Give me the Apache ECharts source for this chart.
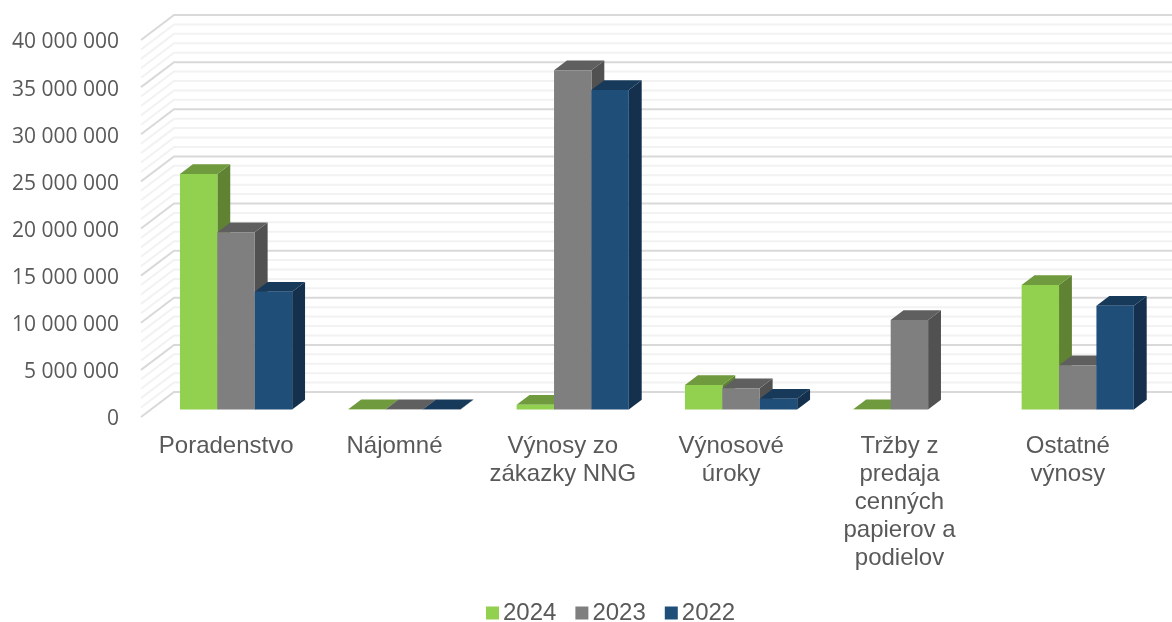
<!DOCTYPE html>
<html>
<head>
<meta charset="utf-8">
<style>
  html, body { margin: 0; padding: 0; background: #fff; }
  #chart { width: 1172px; height: 622px; }
</style>
<script src="https://cdn.jsdelivr.net/npm/echarts@6/dist/echarts.min.js"></script>
</head>
<body>
<div id="chart"></div>
<script>
const categories = ['Poradenstvo', 'Nájomné', 'Výnosy zo\nzákazky NNG', 'Výnosové\núroky', 'Tržby z\npredaja\ncenných\npapierov a\npodielov', 'Ostatné\nvýnosy'];
const values2024 = [25000000, 30000, 500000, 2600000, 30000, 13200000];
const values2023 = [18800000, 30000, 36000000, 2250000, 9500000, 4700000];
const values2022 = [12500000, 30000, 33900000, 1150000, null, 11000000];
const majorLines = [0, 5000000, 10000000, 15000000, 20000000, 25000000, 30000000, 35000000, 40000000];
const minorLines = [1, 2, 3, 4, 6, 7, 8, 9, 11, 12, 13, 14, 16, 17, 18, 19, 21, 22, 23, 24, 26, 27, 28, 29, 31, 32, 33, 34, 36, 37, 38, 39].map(m => m * 1000000);

// how far the back wall sits behind the axis plane, in pixels
const wallDx = 33;
const wallDy = -25;
// bars take the middle of the depth
const nearDepth = 0.3;
const farDepth = 0.69;
const barShare = 0.2222;

function renderWallLine(color, width) {
  return function (params, api) {
    const v = api.value(0);
    const front = api.coord([0, v]);
    const left = front[0] - api.size([1, 0])[0] / 2 - 1;
    const y = front[1];
    return {
      type: 'polyline',
      silent: true,
      shape: { points: [[left, y], [left + wallDx, y + wallDy], [1172, y + wallDy]] },
      style: { fill: null, stroke: color, lineWidth: width }
    };
  };
}

function renderBar(slot, colors) {
  return function (params, api) {
    const v = api.value(1);
    if (isNaN(v)) {
      return;
    }
    const top = api.coord([api.value(0), v]);
    const base = api.coord([api.value(0), 0]);
    const w = api.size([1, 0])[0] * barShare;
    const x0 = top[0] + (slot - 1.5) * w + nearDepth * wallDx;
    const x1 = x0 + w;
    const yTop = top[1] + nearDepth * wallDy;
    const yBase = base[1] + nearDepth * wallDy;
    const dx = (farDepth - nearDepth) * wallDx;
    const dy = (farDepth - nearDepth) * wallDy;
    return {
      type: 'group',
      children: [
        { type: 'polygon', shape: { points: [[x1, yTop], [x1 + dx, yTop + dy], [x1 + dx, yBase + dy], [x1, yBase]] }, style: { fill: colors.side } },
        { type: 'polygon', shape: { points: [[x0, yTop], [x0 + dx, yTop + dy], [x1 + dx, yTop + dy], [x1, yTop]] }, style: { fill: colors.top } },
        { type: 'rect', shape: { x: x0, y: yTop, width: w, height: yBase - yTop }, style: { fill: colors.front } }
      ]
    };
  };
}

function barSeries(name, values, slot, colors) {
  return {
    name: name,
    type: 'custom',
    coordinateSystem: 'cartesian2d',
    clip: false,
    z: 5,
    itemStyle: { color: colors.front },
    encode: { x: 0, y: 1 },
    data: values.map((v, i) => [i, v]),
    renderItem: renderBar(slot, colors)
  };
}

function wallSeries(values, color, width, z) {
  return {
    type: 'custom',
    coordinateSystem: 'cartesian2d',
    clip: false,
    silent: true,
    z: z,
    encode: { y: 0 },
    data: values.map(v => [v]),
    renderItem: renderWallLine(color, width)
  };
}

const chart = echarts.init(document.getElementById('chart'), null, { renderer: 'canvas' });
chart.setOption({
  animation: false,
  backgroundColor: '#fff',
  textStyle: { fontFamily: 'Liberation Sans, Arial, sans-serif' },
  legend: {
    data: ['2024', '2023', '2022'],
    left: 486,
    top: 601,
    icon: 'rect',
    itemWidth: 13,
    itemHeight: 13,
    itemGap: 19,
    padding: 0,
    textStyle: { color: '#595959', fontSize: 24, padding: [0, 0, 0, -1] }
  },
  grid: { left: 142, width: 1010, top: 40, bottom: 205 },
  xAxis: {
    type: 'category',
    data: categories,
    axisLine: { show: false },
    axisTick: { show: false },
    axisLabel: { interval: 0, color: '#595959', fontSize: 24, lineHeight: 28, margin: 15 }
  },
  yAxis: {
    type: 'value',
    min: 0,
    max: 40000000,
    interval: 5000000,
    axisLine: { show: false },
    axisTick: { show: false },
    splitLine: { show: false },
    axisLabel: {
      color: '#595959',
      fontFamily: 'Open Sans',
      fontSize: 21,
      margin: 23,
      // top aligned with a short line box: sits a little under the tick, as in the original
      verticalAlign: 'top',
      lineHeight: 5,
      formatter: v => String(v).replace(/\B(?=(\d{3})+$)/g, ' ')
    }
  },
  series: [
    wallSeries(minorLines, '#f2f2f2', 2, 1),
    wallSeries(majorLines, '#d9d9d9', 2, 2),
    barSeries('2024', values2024, 0, { front: '#92d050', top: '#6f9a3d', side: '#5f8333' }),
    barSeries('2023', values2023, 1, { front: '#7f7f7f', top: '#5f5f5f', side: '#515151' }),
    barSeries('2022', values2022, 2, { front: '#1f4e79', top: '#173a5a', side: '#14304d' })
  ]
});
</script>
</body>
</html>
